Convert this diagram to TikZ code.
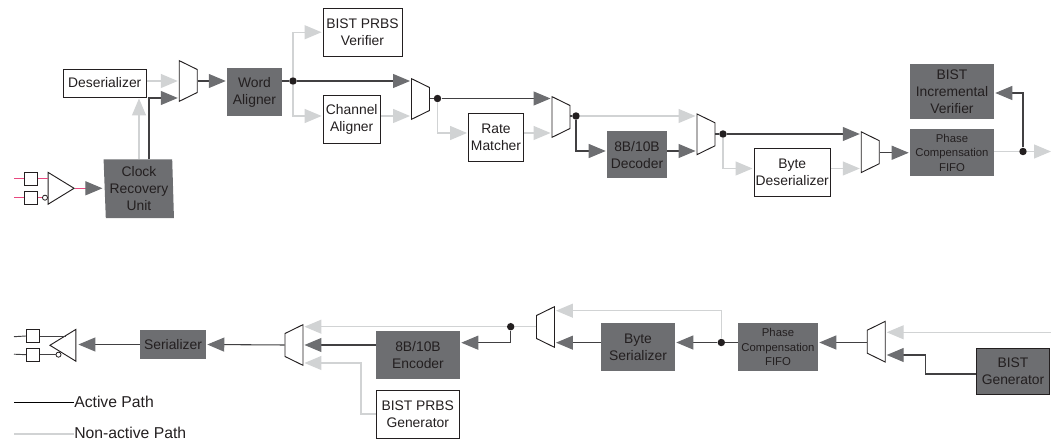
\documentclass[tikz,border=0pt]{standalone}
\usepackage{fontspec}
\setmainfont{Liberation Sans}
\usepackage{tikz}
\usetikzlibrary{arrows.meta,shapes.geometric}
\definecolor{blockgray}{HTML}{6D6E71}
\definecolor{lightpath}{HTML}{D1D3D4}
\definecolor{activepath}{HTML}{414042}
\definecolor{inktext}{HTML}{231F20}
\definecolor{padpink}{HTML}{E8487F}
\tikzset{
	plainbox/.style={draw=inktext, line width=0.7pt, fill=white, inner sep=0pt, align=center, text=inktext,
		font=\fontsize{10.4}{12.8}\selectfont},
	darkbox/.style={fill=blockgray, inner sep=0pt, align=center, text=inktext,
		font=\fontsize{10.4}{12.8}\selectfont},
	lifted/.style={execute at end node={\par\vspace{3pt}}},
	muxfwd/.style={draw=inktext, line width=0.7pt, fill=white, trapezium, trapezium stretches=true, inner sep=1pt,
		shape border rotate=270, trapezium angle=69, minimum width=30.5pt, minimum height=13.5pt},
	muxback/.style={muxfwd, shape border rotate=90},
	dotnode/.style={circle, fill=inktext, inner sep=0pt, minimum size=5.6pt},
	padbox/.style={draw=inktext, line width=0.7pt, fill=white, inner sep=0pt, minimum size=9.8pt},
	bubble/.style={circle, draw=inktext, line width=0.6pt, fill=white, inner sep=0pt, minimum size=3.8pt},
	ampnode/.style={draw=inktext, line width=0.7pt, isosceles triangle, isosceles triangle apex angle=63, inner sep=0pt,
		minimum height=19.5pt},
	active/.style={draw=activepath, line width=0.8pt},
	idle/.style={draw=lightpath, line width=0.9pt},
	acthead/.style={active, shorten >=0.75pt, -{Triangle[length=12.75pt,width=10.5pt,fill=blockgray,color=blockgray]}},
	idlehead/.style={idle, shorten >=0.75pt, -{Triangle[length=12.75pt,width=10.5pt,fill=lightpath,color=lightpath]}},
	legendtext/.style={anchor=west, inner sep=0pt, text=inktext, font=\fontsize{11.8}{13}\selectfont}
}
\begin{document}
\begin{tikzpicture}[x=0.75pt,y=-0.75pt]
		\useasboundingbox (0,0) rectangle (1051,441);
		
		\node[padbox] (padA) at (30.8,178.8) {};
		\node[padbox] (padB) at (30.8,197.7) {};
		\node[ampnode] (rxbuf) at (57,188.3) {};
		\node[bubble] (rxinv) at (45,197.7) {};
		\node[darkbox, lifted, trapezium, trapezium stretches=true, trapezium left angle=92.5, trapezium right angle=88,
			minimum width=53pt, minimum height=44pt, text=inktext] (cru) at (139,188.8) {Clock\\Recovery\\Unit};
		\node[plainbox, minimum width=62.6pt, minimum height=21pt] (des) at (104.75,83) {Deserializer};
		\node[muxfwd] (m1) at (188.25,81) {};
		\node[darkbox, lifted, minimum width=41.2pt, minimum height=36pt] (word) at (254.5,92) {Word\\Aligner};
		\node[dotnode] (d1) at (293,81) {};
		\node[plainbox, lifted, minimum width=59.2pt, minimum height=35.6pt] (prbsver) at (362.5,32.25) {BIST PRBS\\Verifier};
		\node[plainbox, lifted, minimum width=43pt, minimum height=35.6pt] (chan) at (351.75,119.3) {Channel\\Aligner};
		\node[muxfwd] (m2) at (420.5,99) {};
		\node[dotnode] (d2) at (437.5,98.5) {};
		\node[plainbox, lifted, minimum width=41.2pt, minimum height=35.6pt] (rate) at (496,137.25) {Rate\\Matcher};
		\node[muxfwd] (m3) at (561,117) {};
		\node[dotnode] (d3) at (576,116) {};
		\node[darkbox, lifted, minimum width=45pt, minimum height=35.6pt] (dec) at (637,154.75) {8B/10B\\Decoder};
		\node[muxfwd] (m4) at (706,134.3) {};
		\node[dotnode] (d4) at (723,134) {};
		\node[plainbox, lifted, minimum width=57.4pt, minimum height=35.3pt] (bytede) at (792.25,172.5) {Byte\\Deserializer};
		\node[muxfwd] (m5) at (870.25,152.2) {};
		\node[darkbox, minimum width=63pt, minimum height=35.6pt, font=\fontsize{8.5}{10.9}\selectfont] (fifoA) at (952,152.75) {Phase\\Compensation\\FIFO};
		\node[darkbox, minimum width=63pt, minimum height=41.2pt] (incr) at (952,91.5) {BIST\\Incremental\\Verifier};
		\node[dotnode] (d5) at (1023,151.5) {};
		\coordinate (rxout) at (1051,151.5);
		
		\draw[padpink, line width=0.8pt] (14,178.8) coordinate (inA) -- (padA.west);
		\draw[padpink, line width=0.8pt] (14,197.7) coordinate (inB) -- (padB.west);
		\draw[padpink, line width=0.8pt] (padA.east) -- (rxbuf.west |- padA.east);
		\draw[padpink, line width=0.8pt] (padB.east) -- (rxinv.west);
		\draw[padpink, line width=0.8pt, shorten >=1.5pt, -{Triangle[length=12.75pt,width=10.5pt,fill=blockgray,color=blockgray]}]
			(rxbuf.east) -- (cru.west |- rxbuf.east);
		\draw[idlehead] (cru.north) -- (cru.north |- des.south);
		\draw[acthead] (149,159.5) coordinate (cruup) |- (m1.west |- 0,98);
		\draw[idlehead] (des.east |- 0,81) -- (m1.west |- 0,81);
		\draw[acthead] (m1.east) -- (word.west |- m1.east);
		\draw[active] (word.east |- d1) -- (d1);
		\draw[acthead] (d1) -- (m2.west |- d1);
		\draw[idlehead] (d1) |- (prbsver.west);
		\draw[idlehead] (d1) |- (chan.west |- 0,116);
		\draw[idlehead] (chan.east |- 0,116) -- (m2.west |- 0,116);
		\draw[active] (m2.east |- d2) -- (d2);
		\draw[acthead] (d2) -- (m3.west |- d2);
		\draw[idlehead] (d2) |- (rate.west |- 0,133);
		\draw[idlehead] (rate.east |- 0,133) -- (m3.west |- 0,133);
		\draw[active] (m3.east |- d3) -- (d3);
		\draw[idlehead] (d3) -- (m4.west |- d3);
		\draw[acthead] (d3) |- (dec.west |- 0,151);
		\draw[acthead] (dec.east |- 0,151) -- (m4.west |- 0,151);
		\draw[active] (m4.east |- d4) -- (d4);
		\draw[acthead] (d4) -- (m5.west |- d4);
		\draw[idlehead] (d4) |- (bytede.west |- 0,168.5);
		\draw[idlehead] (bytede.east |- 0,168.5) -- (m5.west |- 0,168.5);
		\draw[acthead] (m5.east |- fifoA.west) -- (fifoA.west);
		\draw[idle] (fifoA.east |- d5) -- (d5);
		\draw[idlehead, shorten >=0pt] (d5) -- (rxout);
		\draw[acthead] (d5) |- (incr.east |- 0,93);
		
		\node[padbox] (padC) at (33,336) {};
		\node[padbox] (padD) at (33,354.7) {};
		\node[ampnode, shape border rotate=180] (txbuf) at (67,345.3) {};
		\node[bubble] (txinv) at (58.5,354.7) {};
		\node[darkbox, minimum width=49.5pt, minimum height=21.8pt] (ser) at (173,344.5) {Serializer};
		\node[muxback] (m6) at (294,345) {};
		\node[darkbox, lifted, minimum width=63pt, minimum height=36pt] (enc) at (418,355) {8B/10B\\Encoder};
		\node[plainbox, lifted, minimum width=62.6pt, minimum height=36pt] (prbsgen) at (417.75,414) {BIST PRBS\\Generator};
		\node[dotnode] (d6) at (510.7,326.7) {};
		\node[muxback] (m7) at (545.5,327) {};
		\node[darkbox, lifted, minimum width=55.5pt, minimum height=35.8pt] (bytes) at (638,347) {Byte\\Serializer};
		\node[dotnode] (d7) at (721.3,342.5) {};
		\node[darkbox, minimum width=60pt, minimum height=35.8pt, font=\fontsize{8.5}{10.9}\selectfont] (fifoB) at (778,347) {Phase\\Compensation\\FIFO};
		\node[muxback] (m8) at (876.25,341.7) {};
		\node[darkbox, draw=inktext, line width=0.7pt, minimum width=55pt, minimum height=35pt] (bistgen) at (1013,371.5) {BIST\\Generator};
		\coordinate (txin) at (1051,332.3);
		
		\draw[active, line width=0.7pt] (14,336.7) coordinate (outC) -- (padC.west);
		\draw[active, line width=0.7pt] (14,354.2) coordinate (outD) -- (padD.west);
		\draw[active, line width=0.7pt] (padC.east |- outC) -- (65.5,336.7) coordinate (txtop);
		\draw[active, line width=0.7pt] (padD.east |- outD) -- (txinv.west |- outD);
		\draw[acthead, shorten >=1.5pt] (ser.west) -- (txbuf.east |- ser.west);
		\draw[acthead] (m6.west) -- (ser.east);
		\draw[acthead] (enc.west |- m6.west) -- (m6.east);
		\draw[idlehead] (d6) -- (m6.east |- d6);
		\draw[idlehead] (prbsgen.west) -| (361,363) coordinate (genup) -- (m6.east |- genup);
		\draw[idle] (m7.west |- d6) -- (d6);
		\draw[acthead] (d6) |- (enc.east |- 0,342.7);
		\draw[acthead] (bytes.west |- 0,342.7) -- (m7.east |- 0,342.7);
		\draw[idlehead] (d7) |- (m7.east |- 0,310.7);
		\draw[active] (fifoB.west |- d7) -- (d7);
		\draw[acthead] (d7) -- (bytes.east |- d7);
		\draw[acthead] (m8.west |- d7) -- (fifoB.east |- d7);
		\draw[idlehead] (txin) -- (m8.east |- txin);
		\draw[acthead] (bistgen.west |- 0,374) -| (925.7,355) coordinate (bistup) -- (m8.east |- bistup);
		
		\node[legendtext] (actlab) at (74,401.8) {Active Path};
		\node[legendtext] (idlelab) at (74,433) {Non-active Path};
		\draw[draw=black, line width=0.8pt] (14,402.7) coordinate (actstart) -- (actlab.west |- actstart);
		\draw[idle] (14,434) coordinate (idlestart) -- (idlelab.west |- idlestart);
	\end{tikzpicture}
\end{document}
